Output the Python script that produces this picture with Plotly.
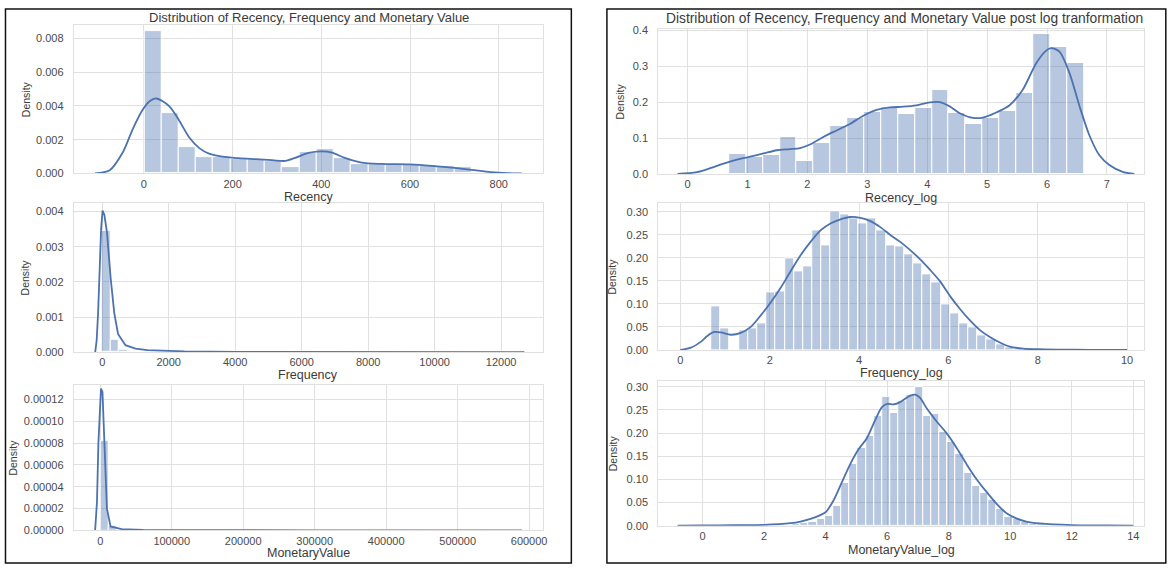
import plotly.graph_objects as go

# ---------------- data ----------------
recency_bin_start = 1.0
recency_bin_width = 38.84
recency_hist = [0.00843, 0.00358, 0.00158, 0.00095, 0.00095, 0.00084, 0.00084, 0.00070, 0.00039,
                0.00129, 0.00146, 0.00092, 0.00056, 0.00055, 0.00055, 0.00053, 0.00049, 0.00043, 0.00035]
recency_kde_x = [-110, -77, -47, -25, -2, 13, 28, 57, 78, 102, 125, 147, 177, 214, 252, 289, 319,
                 341, 371, 401, 424, 453, 491, 536, 600, 648, 700, 745, 782, 820, 852]
recency_kde_y = [0, 0.00019, 0.00127, 0.00263, 0.0038, 0.00428, 0.00444, 0.00399, 0.00321, 0.00214,
                 0.0015, 0.00117, 0.00099, 0.0009, 0.00084, 0.00078, 0.00074, 0.00092, 0.00121, 0.0013,
                 0.00123, 0.00092, 0.00064, 0.00056, 0.00053, 0.00045, 0.00033, 0.00019, 0.00008, 0.00002, 0]

frequency_bin_start = 1.0
frequency_bin_width = 250.8
frequency_hist = [0.00345, 0.00034, 0.00006, 0.000025, 0.000012, 0.000006, 0.000004, 0.000003, 0.000002, 0.000002,
                  0.000001, 0.000001, 0.000001, 0.0000008, 0.0000006, 0.0000005, 0.0000004, 0.0000003, 0.0000003, 0.0000002,
                  0.0000002, 0.0000002, 0.0000001, 0.0000001, 0.0000001, 0, 0, 0.0000001, 0, 0,
                  0, 0, 0, 0, 0, 0, 0, 0, 0, 0,
                  0, 0, 0, 0, 0, 0, 0, 0, 0, 0.0000001]
frequency_kde_x = [-210, -166, -122, -78, -33, 11, 66, 144, 255, 365, 476, 700, 1000, 1360, 2000, 2470,
                   4000, 6000, 8000, 10000, 12000, 12700]
frequency_kde_y = [0, 0.00034, 0.00115, 0.0023, 0.0035, 0.00403, 0.0039, 0.0034, 0.0021, 0.0011, 0.00052,
                   0.0002, 0.0001, 0.00006, 0.00003, 0.00002, 0.000008, 0.000004, 0.000002, 0.000001, 0.0000005, 0]

monetary_bin_start = 0.0
monetary_bin_width = 11640.0
monetary_hist = [0.0000825, 0.0000045, 0.0000009, 0.0000004, 0.0000002, 0.0000001, 0.0000001, 0.00000005, 0.00000005, 0.00000003,
                 0.00000002, 0.00000002, 0.00000001, 0, 0, 0, 0, 0, 0, 0,
                 0, 0, 0, 0, 0, 0, 0, 0, 0, 0,
                 0, 0, 0, 0, 0, 0, 0, 0, 0, 0,
                 0, 0, 0, 0, 0, 0, 0, 0, 0, 0.00000001]
monetary_kde_x = [-7200, -4600, -2600, -1000, 1000, 3100, 5700, 9300, 14400, 30000, 60000, 100000,
                  200000, 300000, 400000, 500000, 590000]
monetary_kde_y = [0, 0.000026, 0.00008, 0.00011, 0.00013, 0.000127, 0.00008, 0.00002, 0.0000036, 0.0000012,
                  0.0000004, 0.0000002, 0.0000001, 0.00000005, 0.00000003, 0.00000002, 0]

recency_log_bin_start = 0.693
recency_log_bin_width = 0.2819
recency_log_hist = [0.055, 0.048, 0.053, 0.104, 0.036, 0.086, 0.132, 0.155, 0.173, 0.187, 0.168,
                    0.182, 0.234, 0.170, 0.139, 0.156, 0.176, 0.224, 0.388, 0.353, 0.308]
recency_log_kde_x = [-0.167, 0.155, 0.378, 0.6, 0.822, 1.044, 1.266, 1.488, 1.71, 1.877, 2.043, 2.265,
                     2.487, 2.71, 2.932, 3.154, 3.376, 3.598, 3.82, 4.042, 4.209, 4.375, 4.542, 4.764,
                     4.931, 5.153, 5.375, 5.597, 5.819, 5.985, 6.069, 6.208, 6.374, 6.541, 6.708, 6.874,
                     7.04, 7.263, 7.457]
recency_log_kde_y = [0, 0.005, 0.016, 0.029, 0.04, 0.048, 0.057, 0.066, 0.069, 0.072, 0.082, 0.103,
                     0.121, 0.139, 0.162, 0.178, 0.185, 0.187, 0.191, 0.199, 0.2, 0.188, 0.169, 0.156,
                     0.157, 0.171, 0.191, 0.235, 0.308, 0.343, 0.35, 0.34, 0.281, 0.189, 0.107, 0.052,
                     0.025, 0.006, 0]

frequency_log_bin_start = 0.693
frequency_log_bin_width = 0.2055
frequency_log_hist = [0.095, 0.046, 0.0, 0.043, 0.046, 0.057, 0.126, 0.127, 0.198, 0.171,
                      0.181, 0.260, 0.228, 0.302, 0.294, 0.287, 0.276, 0.286, 0.260, 0.228,
                      0.225, 0.207, 0.188, 0.165, 0.147, 0.098, 0.080, 0.058, 0.050, 0.031,
                      0.022, 0.013, 0.006, 0.003, 0.002, 0.0015, 0.001, 0.001, 0.0007, 0.0005,
                      0.0005, 0.0003, 0.0003]
frequency_log_kde_x = [0, 0.238, 0.461, 0.61, 0.758, 0.907, 1.13, 1.353, 1.576, 1.8, 2.022, 2.245,
                       2.468, 2.691, 2.914, 3.137, 3.36, 3.584, 3.807, 4.03, 4.253, 4.476, 4.699,
                       4.922, 5.145, 5.368, 5.591, 5.814, 6.037, 6.26, 6.483, 6.706, 6.929, 7.152,
                       7.375, 7.673, 8.007, 8.416, 9.16, 10.0]
frequency_log_kde_y = [0, 0.005, 0.018, 0.031, 0.039, 0.038, 0.033, 0.037, 0.05, 0.075, 0.103, 0.135,
                       0.171, 0.206, 0.235, 0.26, 0.275, 0.284, 0.289, 0.287, 0.28, 0.267, 0.25, 0.235,
                       0.217, 0.197, 0.174, 0.149, 0.117, 0.089, 0.064, 0.043, 0.028, 0.016, 0.007,
                       0.003, 0.0014, 0.0007, 0.0002, 0]

monetary_log_bin_start = 0.0
monetary_log_bin_width = 0.2654
monetary_log_hist = [0.0004, 0.0, 0.0004, 0.0004, 0.0008, 0.0008, 0.0011, 0.0015, 0.0015, 0.002,
                     0.0025, 0.003, 0.006, 0.009, 0.014, 0.022, 0.042, 0.093, 0.133, 0.168,
                     0.193, 0.237, 0.279, 0.243, 0.270, 0.283, 0.300, 0.237, 0.242, 0.203,
                     0.180, 0.155, 0.115, 0.087, 0.070, 0.055, 0.037, 0.020, 0.014, 0.008,
                     0.005, 0.003, 0.002, 0.0015, 0.001, 0.0008, 0.0005, 0.0003, 0.0003, 0.0002]
monetary_log_kde_x = [-0.81, 0, 1.0, 2.0, 2.86, 3.18, 3.51, 3.83, 4.01, 4.26, 4.53, 4.80, 5.07, 5.34,
                      5.61, 5.83, 6.01, 6.21, 6.42, 6.75, 6.91, 7.07, 7.29, 7.61, 7.93, 8.26, 8.58,
                      8.90, 9.23, 9.55, 9.88, 10.2, 10.52, 10.96, 12.0, 13.11, 14.0]
monetary_log_kde_y = [0, 0.0007, 0.0012, 0.002, 0.0056, 0.009, 0.015, 0.023, 0.03, 0.055, 0.094, 0.133,
                      0.165, 0.189, 0.228, 0.256, 0.263, 0.262, 0.267, 0.281, 0.283, 0.276, 0.253,
                      0.225, 0.2, 0.168, 0.133, 0.101, 0.073, 0.048, 0.027, 0.016, 0.009, 0.005,
                      0.0014, 0.0007, 0]

recency_xticks = [0, 200, 400, 600, 800]
recency_yticks = [0, 0.002, 0.004, 0.006, 0.008]
frequency_xticks = [0, 2000, 4000, 6000, 8000, 10000, 12000]
frequency_yticks = [0, 0.001, 0.002, 0.003, 0.004]
monetary_xticks = [0, 100000, 200000, 300000, 400000, 500000, 600000]
monetary_yticks = [0, 0.00002, 0.00004, 0.00006, 0.00008, 0.00010, 0.00012]
recency_log_xticks = [0, 1, 2, 3, 4, 5, 6, 7]
recency_log_yticks = [0, 0.1, 0.2, 0.3, 0.4]
frequency_log_xticks = [0, 2, 4, 6, 8, 10]
frequency_log_yticks = [0, 0.05, 0.10, 0.15, 0.20, 0.25, 0.30]
monetary_log_xticks = [0, 2, 4, 6, 8, 10, 12, 14]
monetary_log_yticks = [0, 0.05, 0.10, 0.15, 0.20, 0.25, 0.30]

title_left = "Distribution of Recency, Frequency and Monetary Value"
title_right = "Distribution of Recency, Frequency and Monetary Value post log tranformation"

# ---------------- layout / style ----------------
W, H = 1171, 570
FONT = "Liberation Sans, Arial, Helvetica, sans-serif"
BAR_COLOR = "rgba(76,114,176,0.4)"
LINE_COLOR = "#4c72b0"
GRID = "#e0e0e0"
TICK_COLOR = "#4a4a4a"
LABEL_COLOR = "#3a3a3a"


def fx(p):
    return p / W


def fy(p):
    return 1 - p / H


panels = [
    dict(label="Recency", start=recency_bin_start, width=recency_bin_width, hist=recency_hist,
         kx=recency_kde_x, ky=recency_kde_y, xt=recency_xticks, yt=recency_yticks,
         xpx=(74, 545), ypx=(20.5, 171.7), xr=(-158, 900), yr=(0, 0.00879), yfmt=".3f",
         shape="spline", lab_y=195.5, dens_x=26),
    dict(label="Frequency", start=frequency_bin_start, width=frequency_bin_width, hist=frequency_hist,
         kx=frequency_kde_x, ky=frequency_kde_y, xt=frequency_xticks, yt=frequency_yticks,
         xpx=(74, 545), ypx=(201.7, 354), xr=(-856, 13265), yr=(0, 0.00425), yfmt=".3f",
         shape="linear", lab_y=377.5, dens_x=26),
    dict(label="MonetaryValue", start=monetary_bin_start, width=monetary_bin_width, hist=monetary_hist,
         kx=monetary_kde_x, ky=monetary_kde_y, xt=monetary_xticks, yt=monetary_yticks,
         xpx=(74, 545), ypx=(387.3, 535.7), xr=(-37100, 619600), yr=(0, 0.0001335), yfmt=".5f",
         shape="linear", lab_y=558.5, dens_x=13),
    dict(label="Recency_log", start=recency_log_bin_start, width=recency_log_bin_width, hist=recency_log_hist,
         kx=recency_log_kde_x, ky=recency_log_kde_y, xt=recency_log_xticks, yt=recency_log_yticks,
         xpx=(660.5, 1148), ypx=(24.5, 172.3), xr=(-0.49, 7.62), yr=(0, 0.403), yfmt=".1f",
         shape="spline", lab_y=196.5, dens_x=622),
    dict(label="Frequency_log", start=frequency_log_bin_start, width=frequency_log_bin_width, hist=frequency_log_hist,
         kx=frequency_log_kde_x, ky=frequency_log_kde_y, xt=frequency_log_xticks, yt=frequency_log_yticks,
         xpx=(660.5, 1148), ypx=(202.3, 351.7), xr=(-0.495, 10.38), yr=(0, 0.3186), yfmt=".2f",
         shape="spline", lab_y=375.5, dens_x=614),
    dict(label="MonetaryValue_log", start=monetary_log_bin_start, width=monetary_log_bin_width, hist=monetary_log_hist,
         kx=monetary_log_kde_x, ky=monetary_log_kde_y, xt=monetary_log_xticks, yt=monetary_log_yticks,
         xpx=(660.5, 1148), ypx=(383.3, 531), xr=(-1.44, 14.35), yr=(0, 0.3127), yfmt=".2f",
         shape="spline", lab_y=555.5, dens_x=615),
]

fig = go.Figure()
annotations = []
layout_axes = {}

for i, p in enumerate(panels, start=1):
    sfx = "" if i == 1 else str(i)
    xa, ya = "x" + sfx, "y" + sfx
    n = len(p["hist"])
    centers = [p["start"] + p["width"] * (k + 0.5) for k in range(n)]
    fig.add_trace(go.Bar(
        x=centers, y=p["hist"], width=[p["width"]] * n,
        marker=dict(color=BAR_COLOR, line=dict(color="white", width=1)),
        xaxis=xa, yaxis=ya, showlegend=False, hoverinfo="skip"))
    fig.add_trace(go.Scatter(
        x=p["kx"], y=p["ky"], mode="lines",
        line=dict(color=LINE_COLOR, width=1.8, shape=p["shape"], smoothing=0.8),
        xaxis=xa, yaxis=ya, showlegend=False, hoverinfo="skip"))

    common = dict(showgrid=True, gridcolor=GRID, gridwidth=1, zeroline=False,
                  showline=True, linecolor=GRID, linewidth=1, mirror=True,
                  tickfont=dict(family=FONT, size=11, color=TICK_COLOR))
    layout_axes["xaxis" + sfx] = dict(
        common, domain=[fx(p["xpx"][0]), fx(p["xpx"][1])], range=list(p["xr"]),
        tickvals=p["xt"], tickformat="d" if p["xt"][-1] >= 100 else "", ticks="",
        anchor=ya)
    layout_axes["yaxis" + sfx] = dict(
        common, domain=[fy(p["ypx"][1]), fy(p["ypx"][0])], range=list(p["yr"]),
        tickvals=p["yt"], tickformat=p["yfmt"], ticks="outside", tickcolor="rgba(0,0,0,0)",
        ticklen=7, anchor=xa)

    xc = (p["xpx"][0] + p["xpx"][1]) / 2
    yc = (p["ypx"][0] + p["ypx"][1]) / 2
    annotations.append(dict(text=p["label"], x=fx(xc), y=fy(p["lab_y"]), xref="paper", yref="paper",
                            xanchor="center", yanchor="middle", showarrow=False,
                            font=dict(family=FONT, size=12.5, color=LABEL_COLOR)))
    annotations.append(dict(text="Density", x=fx(p["dens_x"]), y=fy(yc), xref="paper", yref="paper",
                            xanchor="center", yanchor="middle", showarrow=False, textangle=-90,
                            font=dict(family=FONT, size=10.5, color=LABEL_COLOR)))

annotations.append(dict(text=title_left, x=fx(310), y=fy(12.5), xref="paper", yref="paper",
                        xanchor="center", yanchor="middle", showarrow=False,
                        font=dict(family=FONT, size=13, color=LABEL_COLOR)))
annotations.append(dict(text=title_right, x=fx(908), y=fy(14), xref="paper", yref="paper",
                        xanchor="center", yanchor="middle", showarrow=False,
                        font=dict(family=FONT, size=13.8, color=LABEL_COLOR)))

shapes = [
    dict(type="rect", xref="paper", yref="paper", x0=fx(5.5), x1=fx(573.3), y0=fy(569), y1=fy(4),
         line=dict(color="#111111", width=1.5), fillcolor="rgba(0,0,0,0)", layer="above"),
    dict(type="rect", xref="paper", yref="paper", x0=fx(609), x1=fx(1169.8), y0=fy(569), y1=fy(4),
         line=dict(color="#111111", width=1.5), fillcolor="rgba(0,0,0,0)", layer="above"),
]

fig.update_layout(
    width=W, height=H, margin=dict(l=0, r=0, t=0, b=0, pad=0),
    paper_bgcolor="white", plot_bgcolor="white",
    barmode="overlay", bargap=0, showlegend=False,
    font=dict(family=FONT, color=TICK_COLOR),
    annotations=annotations, shapes=shapes,
    **layout_axes)

fig.write_html(
    "out.html",
    config={"displayModeBar": False},
    post_script=("document.documentElement.style.margin='0';"
                 "document.body.style.margin='0';"
                 "document.body.style.overflow='hidden';"))
